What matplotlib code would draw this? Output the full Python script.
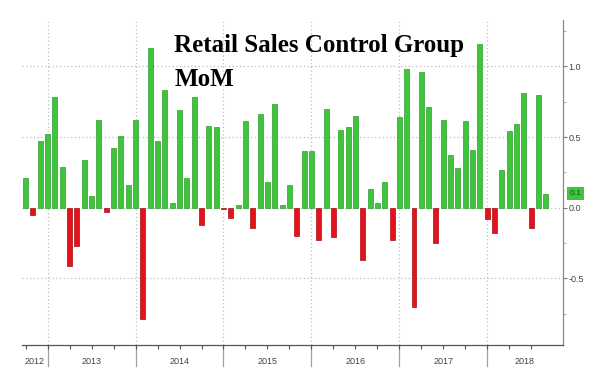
import matplotlib
matplotlib.use("Agg")
import matplotlib.pyplot as plt
import matplotlib.transforms as mtransforms
import numpy as np

# monthly MoM change, Oct 2012 .. Sep 2018
values = [0.21, -0.05, 0.47,
          0.52, 0.78, 0.29, -0.41, -0.27, 0.34, 0.08, 0.62, -0.03, 0.42, 0.51, 0.16,
          0.62, -0.79, 1.13, 0.47, 0.83, 0.03, 0.69, 0.21, 0.78, -0.12, 0.58, 0.57,
          -0.01, -0.07, 0.02, 0.61, -0.14, 0.66, 0.18, 0.73, 0.02, 0.16, -0.20, 0.40,
          0.40, -0.23, 0.70, -0.21, 0.55, 0.57, 0.65, -0.37, 0.13, 0.03, 0.18, -0.23,
          0.64, 0.98, -0.70, 0.96, 0.71, -0.25, 0.62, 0.37, 0.28, 0.61, 0.41, 1.16,
          -0.08, -0.18, 0.27, 0.54, 0.59, 0.81, -0.14, 0.80, 0.10]
years = ["2012", "2013", "2014", "2015", "2016", "2017", "2018"]
first_month = 10  # October 2012
last_label = "0.1"
y_ticks = [-0.5, 0.0, 0.5, 1.0]

values = np.array(values)
x = np.arange(len(values))
months = (first_month - 1 + x) % 12 + 1
jan_idx = x[months == 1]
quarter_idx = x[(months - 1) % 3 == 0]

green = "#3ec53c"
red = "#e3121b"

fig = plt.figure(figsize=(6.11, 3.92), dpi=100)
ax = fig.add_axes([0.036, 0.12, 0.885, 0.83])

colors = np.where(values >= 0, green, red)
edges = np.where(values >= 0, "#2f9e2e", "#a50d12")
ax.bar(x, values, width=0.68, color=colors, edgecolor=edges, linewidth=0.5, zorder=3)

xmin, xmax = -0.5, len(values) - 1 + 2.3
ax.set_xlim(xmin, xmax)
ax.set_ylim(-0.97, 1.33)

# grid
for yv in y_ticks:
    ax.axhline(yv, color="#bdbdbd", lw=0.9, ls=(0, (1, 2)), zorder=1)
for j in jan_idx:
    ax.axvline(j, color="#bdbdbd", lw=0.9, ls=(0, (1, 2)), zorder=1)

# spines
for s in ["left", "top"]:
    ax.spines[s].set_visible(False)
ax.spines["bottom"].set_color("#555555")
ax.spines["right"].set_color("#8a8a8a")
ax.spines["bottom"].set_linewidth(0.9)
ax.spines["right"].set_linewidth(0.9)

# right y axis
ax.yaxis.tick_right()
ax.set_yticks(y_ticks)
ax.set_yticklabels(["%.1f" % v for v in y_ticks])
ax.set_yticks(np.arange(-0.75, 1.3, 0.25), minor=True)
ax.tick_params(axis="y", which="major", length=3, width=0.8, color="#777777",
               labelsize=6.5, labelcolor="#444444", pad=1)
ax.tick_params(axis="y", which="minor", length=2, width=0.6, color="#999999")
for lab in ax.get_yticklabels():
    lab.set_fontfamily("Liberation Sans")

# bottom axis: quarterly ticks, year labels between separators
ax.set_xticks(quarter_idx)
ax.set_xticklabels([])
ax.tick_params(axis="x", length=3, width=0.8, color="#555555")

trans = mtransforms.blended_transform_factory(ax.transData, ax.transAxes)
for j in jan_idx:
    ax.plot([j, j], [0, -0.065], transform=trans, color="#a0a0a0", lw=0.9,
            clip_on=False, zorder=1)
bounds = [xmin] + list(jan_idx) + [xmax]
for i, yr in enumerate(years):
    ax.text((bounds[i] + bounds[i + 1]) / 2, -0.052, yr, transform=trans,
            ha="center", va="center", fontsize=6.5, color="#444444",
            family="Liberation Sans")

# last value tag
ytrans = mtransforms.blended_transform_factory(ax.transAxes, ax.transData)
ax.annotate(last_label, xy=(1.0, values[-1]), xycoords=ytrans,
            xytext=(5, 0), textcoords="offset points", ha="left", va="center",
            fontsize=6, color="#1f4a1f", family="Liberation Sans",
            bbox=dict(boxstyle="square,pad=0.35", fc=green, ec="none"),
            annotation_clip=False)

# title
fig.text(0.285, 0.912, "Retail Sales Control Group\nMoM", ha="left", va="top",
         fontsize=18, fontweight="bold", family="Liberation Serif",
         color="black", linespacing=1.6)

fig.savefig("out.png", dpi=100, facecolor="white")
